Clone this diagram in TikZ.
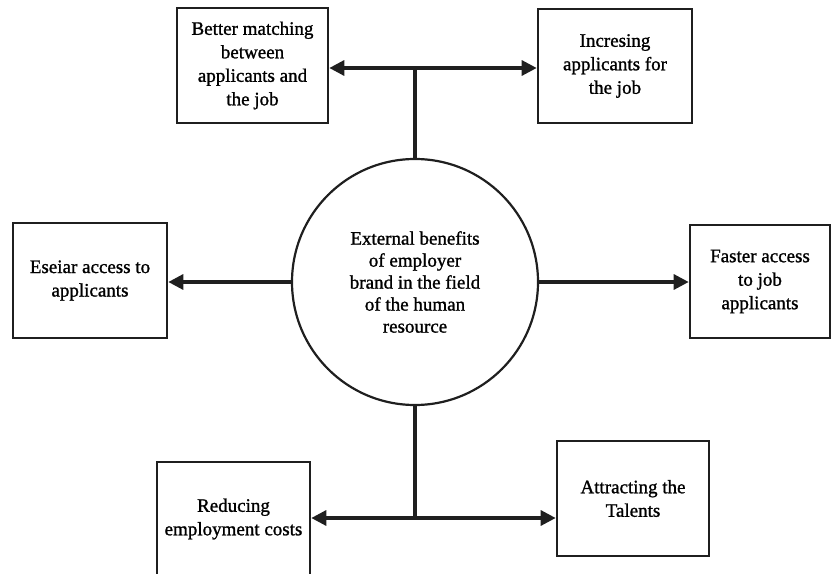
\documentclass[tikz,border=0pt]{standalone}
\usepackage{fontspec}
\setmainfont{Liberation Serif}[RawFeature={embolden=1.2}]
\usetikzlibrary{arrows.meta}
\begin{document}
\begin{tikzpicture}[x=1bp,y=-1bp,
  box/.style={draw=black!88,line width=2.6bp,minimum width=#1,inner sep=2bp,align=center,
    font=\fontsize{19bp}{23.5bp}\selectfont},
  hub/.style={draw=black!88,line width=2.2bp,circle,minimum size=246bp,inner sep=0pt,align=center,
    font=\fontsize{19bp}{22bp}\selectfont},
  conn/.style={draw=black!88,line width=3.2bp},
  arr/.style={conn,-{Triangle[length=15bp,width=15bp]}}]
\useasboundingbox (0,0) rectangle (833,574);
\node[hub] (c) at (415,282) {External benefits\\of employer\\brand in the field\\of the human\\resource};
\node[box=151bp,minimum height=115bp] (tl) at (252.5,65.5) {Better matching\\between\\applicants and\\the job};
\node[box=154bp,minimum height=114bp] (tr) at (615,66) {Incresing\\applicants for\\the job};
\node[box=154bp,minimum height=115bp] (l) at (90,280.5) {Eseiar access to\\applicants};
\node[box=140bp,minimum height=113bp] (r) at (760,281.5) {Faster access\\to job\\applicants};
\node[box=153bp,minimum height=114bp] (bl) at (233.5,519) {Reducing\\employment costs};
\node[box=152bp,minimum height=115bp] (br) at (633,498.5) {Attracting the\\Talents};
\coordinate (jt) at (415,68);
\coordinate (jb) at (415,518);
\draw[conn] (c.north) -- (jt);
\draw[arr] (jt) -- (jt -| tl.east);
\draw[arr] (jt) -- (jt -| tr.west);
\draw[arr] (c.west) -- (c.west -| l.east);
\draw[arr] (c.east) -- (c.east -| r.west);
\draw[conn] (c.south) -- (jb);
\draw[arr] (jb) -- (jb -| bl.east);
\draw[arr] (jb) -- (jb -| br.west);
\end{tikzpicture}
\end{document}
